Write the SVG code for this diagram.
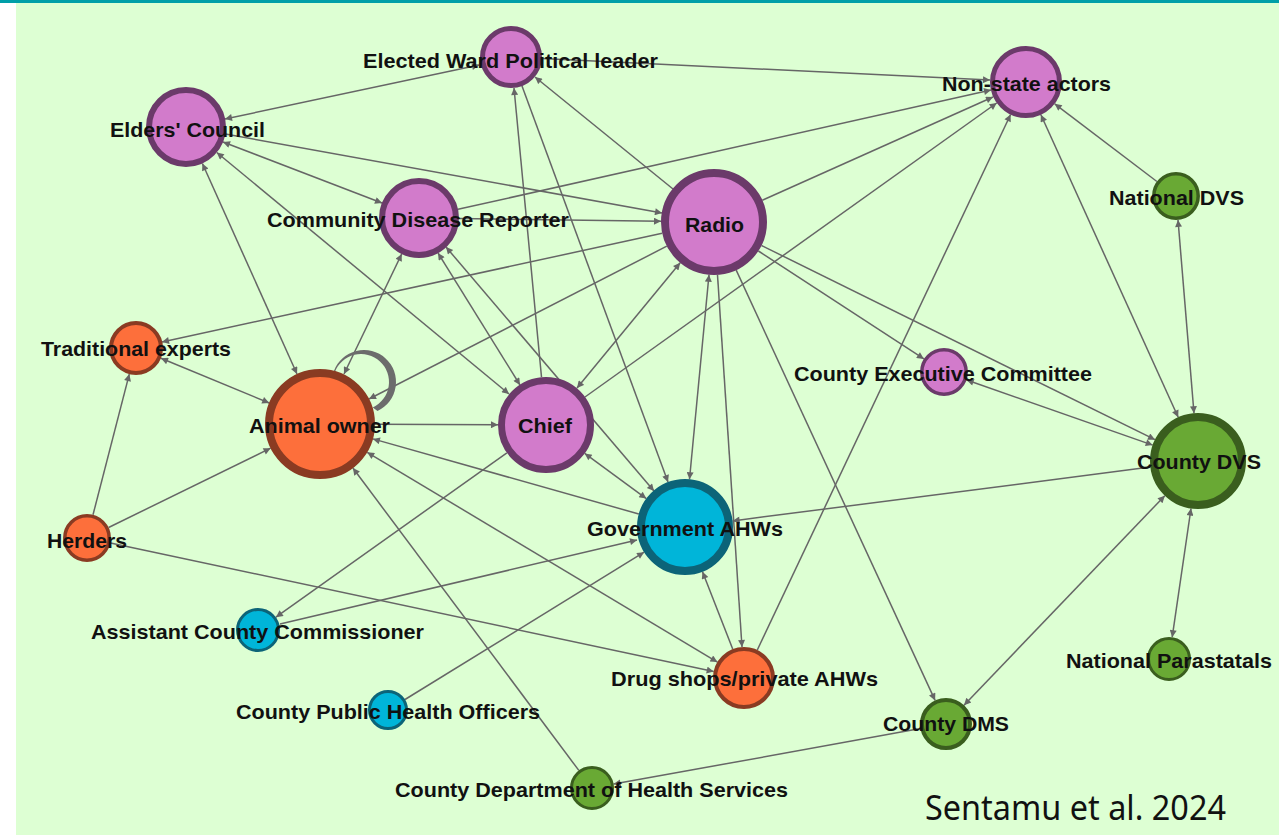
<svg xmlns="http://www.w3.org/2000/svg" width="1279" height="835" viewBox="0 0 1279 835">
<style>
.e{stroke:#666666;stroke-width:1.5;fill:none;marker-end:url(#ah)}
.b{marker-start:url(#ah)}
.lbl{font-family:"Liberation Sans",Arial,sans-serif;font-weight:bold;font-size:21px;fill:#111}
.pu{fill:#d27bcb;stroke:#6b3a6a}
.or{fill:#fd6f3b;stroke:#8a3b22}
.bl{fill:#00b5d9;stroke:#0c6478}
.gr{fill:#69a934;stroke:#3a5e1e}
</style>
<defs>
<marker id="ah" viewBox="0 0 10 10" refX="10" refY="5" markerWidth="9" markerHeight="7" markerUnits="userSpaceOnUse" orient="auto-start-reverse">
<path d="M0,0 L10,5 L0,10 z" fill="#666666"/>
</marker>
</defs>
<rect x="0" y="0" width="1279" height="835" fill="#ffffff"/>
<rect x="16" y="3" width="1263" height="832" fill="#ddffd3"/>
<rect x="0" y="0" width="1279" height="3" fill="#009fa8"/>
<g id="connectors">
<line class="e b" x1="225" y1="119" x2="479" y2="65"/>
<line class="e" x1="542" y1="58.5" x2="990" y2="80"/>
<line class="e" x1="541.5" y1="377" x2="514" y2="88"/>
<line class="e" x1="522" y1="86" x2="668" y2="482"/>
<line class="e" x1="673" y1="189" x2="535" y2="77"/>
<line class="e b" x1="223" y1="142" x2="382" y2="203"/>
<line class="e" x1="225.4" y1="134" x2="662" y2="213"/>
<line class="e b" x1="216.8" y1="152.5" x2="509" y2="394"/>
<line class="e b" x1="202.4" y1="163.5" x2="297" y2="374"/>
<line class="e b" x1="401.7" y1="254" x2="344" y2="374"/>
<line class="e b" x1="438" y1="253" x2="520" y2="385"/>
<line class="e b" x1="446" y1="247" x2="654" y2="491"/>
<line class="e" x1="459" y1="218.5" x2="661" y2="221.3"/>
<line class="e" x1="458" y1="209.3" x2="991" y2="90"/>
<line class="e" x1="662.2" y1="233.3" x2="162" y2="342"/>
<line class="e" x1="666.8" y1="246.2" x2="369" y2="399"/>
<line class="e b" x1="680.2" y1="262.8" x2="577" y2="388"/>
<line class="e" x1="762.3" y1="200.3" x2="993" y2="97"/>
<line class="e" x1="585" y1="397" x2="996.7" y2="103"/>
<line class="e" x1="757.3" y1="650" x2="1010.6" y2="114.5"/>
<line class="e b" x1="1040.9" y1="114.8" x2="1178.2" y2="417.3"/>
<line class="e" x1="1156.9" y1="181.5" x2="1054.7" y2="103.8"/>
<line class="e" x1="758.4" y1="251" x2="923.9" y2="358.9"/>
<line class="e" x1="761.5" y1="245.5" x2="1155" y2="439.7"/>
<line class="e b" x1="966.7" y1="380" x2="1152.7" y2="445.1"/>
<line class="e" x1="736.2" y1="270.1" x2="935.1" y2="700.4"/>
<line class="e b" x1="709" y1="274.8" x2="689.5" y2="479.2"/>
<line class="e" x1="717.5" y1="274.9" x2="742" y2="647"/>
<line class="e" x1="732.7" y1="649.1" x2="702.5" y2="571.7"/>
<line class="e b" x1="367.2" y1="452.3" x2="717.4" y2="662.1"/>
<line class="e" x1="110.5" y1="543" x2="713.7" y2="671.5"/>
<line class="e" x1="638.8" y1="514" x2="372.9" y2="438.9"/>
<line class="e" x1="578.8" y1="770.4" x2="352.9" y2="468"/>
<line class="e" x1="375" y1="424.2" x2="498" y2="424.8"/>
<line class="e b" x1="161" y1="358.3" x2="269.2" y2="403"/>
<line class="e" x1="93" y1="514.8" x2="129.3" y2="374.1"/>
<line class="e" x1="108.6" y1="527.5" x2="270.6" y2="448.2"/>
<line class="e" x1="506.9" y1="452.8" x2="275.9" y2="617.2"/>
<line class="e" x1="280" y1="624" x2="637" y2="540"/>
<line class="e" x1="405" y1="699.5" x2="644.1" y2="552.2"/>
<line class="e b" x1="584.7" y1="453.4" x2="646.3" y2="498.6"/>
<line class="e" x1="1150.4" y1="467.1" x2="732.6" y2="520.9"/>
<line class="e b" x1="1164.8" y1="495.7" x2="964" y2="705.2"/>
<line class="e b" x1="1191" y1="508.5" x2="1172.2" y2="637.2"/>
<line class="e b" x1="1194" y1="413.2" x2="1178" y2="219.9"/>
<line class="e" x1="920.4" y1="728.6" x2="613.6" y2="784.1"/>
<path d="M333.9 371.1 A32 32 0 1 1 377.5 411 L372.8 407.4 A28 28 0 1 0 334.7 372.4 Z" fill="#6c6c6c"/>
</g>
<g id="n-ew"><circle class="pu" cx="511" cy="57" r="28.5" stroke-width="5"/><text class="lbl" x="363" y="68" textLength="295" lengthAdjust="spacingAndGlyphs">Elected Ward Political leader</text></g>
<g id="n-ec"><circle class="pu" cx="186" cy="127" r="37" stroke-width="6"/><text class="lbl" x="110" y="137" textLength="155" lengthAdjust="spacingAndGlyphs">Elders' Council</text></g>
<g id="n-cdr"><circle class="pu" cx="419" cy="218" r="37" stroke-width="6"/><text class="lbl" x="267" y="227" textLength="302" lengthAdjust="spacingAndGlyphs">Community Disease Reporter</text></g>
<g id="n-radio"><circle class="pu" cx="714" cy="222" r="49" stroke-width="8"/><text class="lbl" x="685" y="232" textLength="59" lengthAdjust="spacingAndGlyphs">Radio</text></g>
<g id="n-nsa"><circle class="pu" cx="1026" cy="82" r="33.5" stroke-width="5"/><text class="lbl" x="942" y="91" textLength="169" lengthAdjust="spacingAndGlyphs">Non-state actors</text></g>
<g id="n-ndvs"><circle class="gr" cx="1176" cy="196" r="22.2" stroke-width="3.5"/><text class="lbl" x="1109" y="205" textLength="135" lengthAdjust="spacingAndGlyphs">National DVS</text></g>
<g id="n-te"><circle class="or" cx="136" cy="348" r="25" stroke-width="4"/><text class="lbl" x="41" y="356" textLength="190" lengthAdjust="spacingAndGlyphs">Traditional experts</text></g>
<g id="n-ao"><circle class="or" cx="320" cy="424" r="51" stroke-width="8"/><text class="lbl" x="249" y="433" textLength="141" lengthAdjust="spacingAndGlyphs">Animal owner</text></g>
<g id="n-chief"><circle class="pu" cx="546" cy="425" r="44.5" stroke-width="7"/><text class="lbl" x="518" y="433" textLength="54" lengthAdjust="spacingAndGlyphs">Chief</text></g>
<g id="n-herders"><circle class="or" cx="87" cy="538" r="22.2" stroke-width="3.5"/><text class="lbl" x="47" y="548" textLength="80" lengthAdjust="spacingAndGlyphs">Herders</text></g>
<g id="n-ga"><circle class="bl" cx="685" cy="527" r="44" stroke-width="8"/><text class="lbl" x="587" y="536" textLength="196" lengthAdjust="spacingAndGlyphs">Government AHWs</text></g>
<g id="n-cec"><circle class="pu" cx="944" cy="372" r="22.2" stroke-width="3.5"/><text class="lbl" x="794" y="381" textLength="298" lengthAdjust="spacingAndGlyphs">County Executive Committee</text></g>
<g id="n-cdvs"><circle class="gr" cx="1198" cy="461" r="44" stroke-width="8"/><text class="lbl" x="1137" y="469" textLength="124" lengthAdjust="spacingAndGlyphs">County DVS</text></g>
<g id="n-acc"><circle class="bl" cx="258" cy="630" r="20.5" stroke-width="3"/><text class="lbl" x="91" y="639" textLength="333" lengthAdjust="spacingAndGlyphs">Assistant County Commissioner</text></g>
<g id="n-cpho"><circle class="bl" cx="388" cy="710" r="18.5" stroke-width="3"/><text class="lbl" x="236" y="719" textLength="304" lengthAdjust="spacingAndGlyphs">County Public Health Officers</text></g>
<g id="n-cdhs"><circle class="gr" cx="592" cy="788" r="20.5" stroke-width="3"/><text class="lbl" x="395" y="797" textLength="393" lengthAdjust="spacingAndGlyphs">County Department of Health Services</text></g>
<g id="n-ds"><circle class="or" cx="744" cy="678" r="29" stroke-width="4"/><text class="lbl" x="611" y="686" textLength="267" lengthAdjust="spacingAndGlyphs">Drug shops/private AHWs</text></g>
<g id="n-dms"><circle class="gr" cx="946" cy="724" r="24" stroke-width="4"/><text class="lbl" x="883" y="731" textLength="126" lengthAdjust="spacingAndGlyphs">County DMS</text></g>
<g id="n-np"><circle class="gr" cx="1169" cy="659" r="20.5" stroke-width="3"/><text class="lbl" x="1066" y="668" textLength="206" lengthAdjust="spacingAndGlyphs">National Parastatals</text></g>
<text x="925" y="820" font-family="'Noto Sans','Open Sans',sans-serif" font-size="34" fill="#111" textLength="301" lengthAdjust="spacingAndGlyphs">Sentamu et al. 2024</text>
</svg>
